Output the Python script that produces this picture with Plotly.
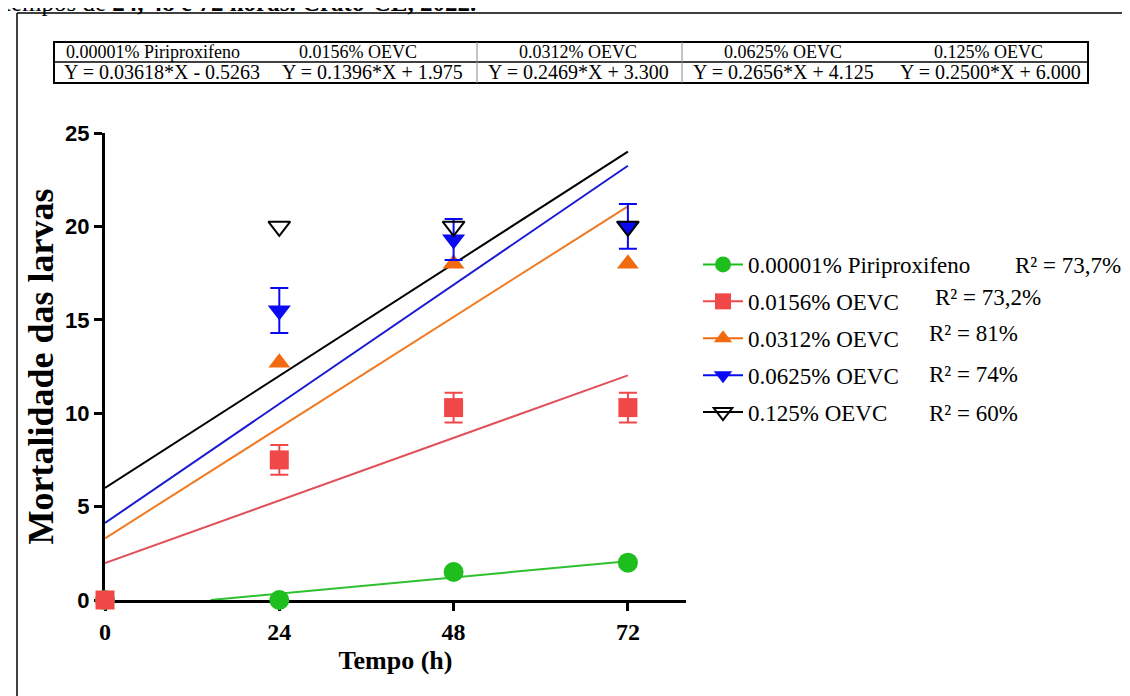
import plotly.graph_objects as go

# ---------------- data ----------------
times = [0, 24, 48, 72]
series_names = ["0.00001% Piriproxifeno", "0.0156% OEVC", "0.0312% OEVC", "0.0625% OEVC", "0.125% OEVC"]
piri = [0, 0, 1.5, 2.0]
oevc_0156 = [0, 7.5, 10.3, 10.3]
oevc_0156_err = [0, 0.8, 0.8, 0.8]
oevc_0312 = [0, 12.7, 18.0, 18.0]
oevc_0625 = [0, 15.5, 19.3, 20.0]
oevc_0625_err = [0, 1.2, 1.1, 1.2]
oevc_125 = [0, 20.0, 20.0, 20.0]
slopes = [0.03618, 0.1396, 0.2469, 0.2656, 0.2500]
intercepts = [-0.5263, 1.975, 3.300, 4.125, 6.000]
eq_labels = ["Y = 0.03618*X - 0.5263", "Y = 0.1396*X + 1.975", "Y = 0.2469*X + 3.300",
             "Y = 0.2656*X + 4.125", "Y = 0.2500*X + 6.000"]
r2_labels = ["R² = 73,7%", "R² = 73,2%", "R² = 81%", "R² = 74%", "R² = 60%"]
x_ticks = [0, 24, 48, 72]
y_ticks = [0, 5, 10, 15, 20, 25]
caption_plain = "tempos de "
caption_bold = "24, 48 e 72 horas. Crato-CE, 2022."

# ---------------- styles ----------------
SERIF = "Liberation Serif"
SANS = "Liberation Sans"
marker_colors = ["#1EBE1E", "#F04848", "#F26A10", "#0A0AF0", "#000000"]
line_colors = ["#2EC02E", "#E2505A", "#F07A22", "#1A1AD2", "#000000"]
symbols = ["circle", "square", "triangle-up", "triangle-down", "triangle-down-open"]
sizes = [20, 19, 19, 20, 19]
# first point shown in the picture for each series (the 0 h points of the
# triangle series are hidden under the red square in the reference)
first_shown = [0, 0, 1, 1, 1]

# page body has an 8px margin: figure drawn 8px right/down of window origin
OFF = 8
W, H = 1130 - OFF, 696 - OFF
# plot area in window (reference) pixels
L, R, T, B = 105, 686, 133, 600


def px(x):
    return (x - L) / (R - L)


def py(y):
    return (B - y) / (B - T)


fig = go.Figure()

# regression lines
x_end = times[-1]
for i in range(5):
    x0 = max(0.0, -intercepts[i] / slopes[i])
    xs = [x0, x_end]
    ys = [slopes[i] * x + intercepts[i] for x in xs]
    fig.add_trace(go.Scatter(x=xs, y=ys, mode="lines", showlegend=False, hoverinfo="skip",
                             line=dict(color=line_colors[i], width=2), cliponaxis=False))

values = [piri, oevc_0156, oevc_0312, oevc_0625, oevc_125]
errors = [None, oevc_0156_err, None, oevc_0625_err, None]
draw_order = [0, 2, 3, 4, 1]
for i in draw_order:
    s = first_shown[i]
    kw = {}
    if errors[i] is not None:
        kw["error_y"] = dict(type="data", array=errors[i][s:], visible=True,
                             color=marker_colors[i], thickness=2, width=9)
    mk = dict(symbol=symbols[i], size=sizes[i], color=marker_colors[i])
    if i == 4:
        mk = dict(symbol=symbols[i], size=sizes[i], color="#000000", line=dict(color="#000000", width=2))
    fig.add_trace(go.Scatter(x=times[s:], y=values[i][s:], mode="markers", showlegend=False,
                             marker=mk, cliponaxis=False, **kw))

# legend entries
for i in range(5):
    mk = dict(symbol=symbols[i], size=16, color=marker_colors[i])
    if i == 4:
        mk["line"] = dict(color="#000000", width=2)
    fig.add_trace(go.Scatter(x=[None], y=[None], mode="lines+markers", name=series_names[i],
                             legendgroup=f"g{i}", marker=mk,
                             line=dict(color=marker_colors[i], width=2)))

axis_common = dict(showline=True, linewidth=3, linecolor="black", ticks="outside",
                   ticklen=8, tickwidth=3, tickcolor="black", showgrid=False,
                   zeroline=False, layer="below traces")

fig.update_layout(
    width=W, height=H,
    margin=dict(l=L - OFF, r=W - (R - OFF), t=T - OFF, b=H - (B - OFF)),
    paper_bgcolor="white", plot_bgcolor="white",
    xaxis=dict(range=[0, 80], tickvals=x_ticks, ticktext=[f"<b>{v}</b>" for v in x_ticks],
               tickfont=dict(family=SERIF, size=24, color="black"),
               title=dict(text="<b>Tempo (h)</b>", font=dict(family=SERIF, size=26, color="black"),
                          standoff=8),
               **axis_common),
    yaxis=dict(range=[0, 25], tickvals=y_ticks,
               ticktext=[f"<b>{v}</b>" for v in y_ticks],
               tickfont=dict(family=SANS, size=22, color="black"),
               title=dict(text="<b>Mortalidade das larvas</b>", font=dict(family=SERIF, size=36, color="black"),
                          standoff=1),
               **axis_common),
    legend=dict(x=px(698), y=py(243), xanchor="left", yanchor="top",
                font=dict(family=SERIF, size=23, color="black"),
                tracegroupgap=4, itemwidth=40, bgcolor="rgba(0,0,0,0)"),
    showlegend=True,
)

# R² annotations
r2_pos = [(1013, 265), (933, 297), (927, 333), (927, 374), (927, 413)]
for lab, (x, y) in zip(r2_labels, r2_pos):
    fig.add_annotation(x=px(x), y=py(y), xref="paper", yref="paper", text=lab, showarrow=False,
                       xanchor="left", yanchor="middle", font=dict(family=SERIF, size=23, color="black"))

# outer frame
fig.add_shape(type="line", xref="paper", yref="paper", x0=px(17), x1=px(17), y0=py(700), y1=py(13),
              line=dict(color="black", width=1.5))
fig.add_shape(type="line", xref="paper", yref="paper", x0=px(17), x1=px(1132), y0=py(13), y1=py(13),
              line=dict(color="black", width=1.5))

# table
TT, TM, TB = 42, 62, 83
fig.add_shape(type="rect", xref="paper", yref="paper", x0=px(54), x1=px(1088), y0=py(TB), y1=py(TT),
              line=dict(color="black", width=2))
fig.add_shape(type="line", xref="paper", yref="paper", x0=px(54), x1=px(1088), y0=py(TM), y1=py(TM),
              line=dict(color="black", width=1.5))
for xv in [477, 682]:
    fig.add_shape(type="line", xref="paper", yref="paper", x0=px(xv), x1=px(xv), y0=py(TB), y1=py(TT),
                  line=dict(color="#888888", width=1))
head_x = [153, 358, 578, 783, 988]
eq_x = [162, 372, 578, 783, 991]
for i in range(5):
    fig.add_annotation(x=px(head_x[i]), y=py((TT + TM) / 2), xref="paper", yref="paper", text=series_names[i],
                       showarrow=False, xanchor="center", yanchor="middle",
                       font=dict(family=SERIF, size=18, color="black"))
    fig.add_annotation(x=px(eq_x[i]), y=py((TM + TB) / 2), xref="paper", yref="paper", text=eq_labels[i],
                       showarrow=False, xanchor="center", yanchor="middle",
                       font=dict(family=SERIF, size=20, color="black"))

# caption cut at top edge of the picture
fig.add_annotation(x=px(2), y=py(2), xref="paper", yref="paper",
                   text=caption_plain + "<b>" + caption_bold + "</b>", showarrow=False,
                   xanchor="left", yanchor="middle", font=dict(family=SERIF, size=25, color="black"))

fig.write_html("out.html")
